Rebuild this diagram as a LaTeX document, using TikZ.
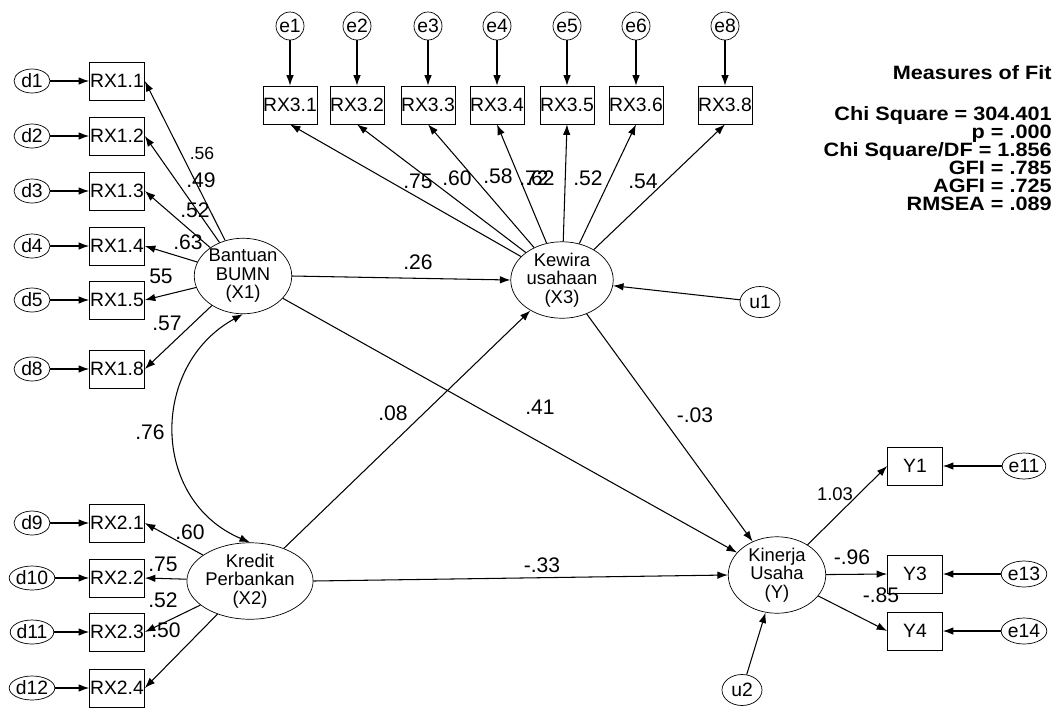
\documentclass[tikz,border=0pt]{standalone}
\usepackage{fontspec}
\setmainfont{Liberation Sans}
\newfontfamily\fitfont[FakeStretch=1.12]{Liberation Sans}
\newcommand\fitsetup{\lineskiplimit=-20pt\relax}
\usetikzlibrary{shapes.geometric, arrows.meta, positioning}

\begin{document}
\begin{tikzpicture}[x=0.02cm, y=-0.02cm, >={Latex[length=2.1mm,width=1.5mm]}, font=\fontsize{11}{12}\selectfont]
\tikzstyle{obs} = [rectangle, draw=black, minimum width=1.1cm, minimum height=0.76cm, inner sep=0pt]
\tikzstyle{topobs} = [obs, minimum width=1.04cm]
\tikzstyle{err} = [ellipse, draw=black, minimum width=0.72cm, minimum height=0.48cm, inner sep=0pt]
\tikzstyle{errc} = [circle, draw=black, minimum size=0.56cm, inner sep=0pt]
\tikzstyle{lat} = [ellipse, draw=black, minimum width=1.95cm, minimum height=1.4cm, align=center, inner sep=0pt, font=\fontsize{10.5}{10.5}\selectfont]
\tikzstyle{arrow} = [->, line width=0.6pt]
\tikzstyle{coef} = [inner sep=0pt, font=\fontsize{12}{13}\selectfont]
\tikzstyle{fit} = [inner sep=0pt, align=right, font=\fitfont\bfseries\fontsize{11}{10.3}\selectfont\fitsetup]

\useasboundingbox (0,0) rectangle (1059,708);

\node (d1) [err] at (32,81) {d1};
\node (d2) [err] at (32,136) {d2};
\node (d3) [err] at (32,191) {d3};
\node (d4) [err] at (32,246) {d4};
\node (d5) [err] at (32,300) {d5};
\node (d8) [err] at (32,369) {d8};
\node (d9) [err] at (32,523) {d9};
\node (d10) [err] at (32,578) {d10};
\node (d11) [err] at (32,632) {d11};
\node (d12) [err] at (32,688) {d12};

\node (rx11) [obs] at (117,81) {RX1.1};
\node (rx12) [obs] at (117,136) {RX1.2};
\node (rx13) [obs] at (117,191) {RX1.3};
\node (rx14) [obs] at (117,246) {RX1.4};
\node (rx15) [obs] at (117,300) {RX1.5};
\node (rx18) [obs] at (117,369) {RX1.8};
\node (rx21) [obs] at (117,523) {RX2.1};
\node (rx22) [obs] at (117,578) {RX2.2};
\node (rx23) [obs] at (117,632) {RX2.3};
\node (rx24) [obs] at (117,688) {RX2.4};

\node (e1) [errc] at (290,26) {e1};
\node (e2) [errc] at (357,26) {e2};
\node (e3) [errc] at (428,26) {e3};
\node (e4) [errc] at (497,26) {e4};
\node (e5) [errc] at (567,26) {e5};
\node (e6) [errc] at (636,26) {e6};
\node (e8) [errc] at (725,26) {e8};

\node (rx31) [topobs] at (290,105) {RX3.1};
\node (rx32) [topobs] at (357,105) {RX3.2};
\node (rx33) [topobs] at (428,105) {RX3.3};
\node (rx34) [topobs] at (497,105) {RX3.4};
\node (rx35) [topobs] at (567,105) {RX3.5};
\node (rx36) [topobs] at (636,105) {RX3.6};
\node (rx38) [topobs] at (725,105) {RX3.8};

\node (bantuan) [lat] at (243,276) {Bantuan\\BUMN\\(X1)};
\node (kredit) [lat, minimum width=2.16cm] at (250,581) {Kredit\\Perbankan\\(X2)};
\node (kewira) [lat, minimum width=2.05cm] at (562,280) {Kewira\\usahaan\\(X3)};
\node (kinerja) [lat] at (777,575) {Kinerja\\Usaha\\(Y)};

\node (u1) [err, minimum width=0.8cm, minimum height=0.62cm] at (760,302) {u1};
\node (u2) [err, minimum width=0.8cm, minimum height=0.62cm] at (742,690) {u2};

\node (y1) [obs] at (915,466) {Y1};
\node (y3) [obs] at (915,574) {Y3};
\node (y4) [obs] at (915,631) {Y4};
\node (e11) [err, minimum height=0.52cm] at (1024,466) {e11};
\node (e13) [err, minimum height=0.52cm] at (1024,574) {e13};
\node (e14) [err, minimum height=0.52cm] at (1024,631) {e14};

\node (fittitle) [fit, anchor=base east] at (1052,79) {Measures of Fit};
\node (fitbody) [fit, anchor=north east] at (1052,106) {Chi Square = 304.401\\p = .000\\Chi Square/DF = 1.856\\GFI = .785\\AGFI = .725\\RMSEA = .089};

\draw [arrow] (d1) -- (rx11);
\draw [arrow] (d2) -- (rx12);
\draw [arrow] (d3) -- (rx13);
\draw [arrow] (d4) -- (rx14);
\draw [arrow] (d5) -- (rx15);
\draw [arrow] (d8) -- (rx18);
\draw [arrow] (d9) -- (rx21);
\draw [arrow] (d10) -- (rx22);
\draw [arrow] (d11) -- (rx23);
\draw [arrow] (d12) -- (rx24);

\draw [arrow] (e1) -- (rx31);
\draw [arrow] (e2) -- (rx32);
\draw [arrow] (e3) -- (rx33);
\draw [arrow] (e4) -- (rx34);
\draw [arrow] (e5) -- (rx35);
\draw [arrow] (e6) -- (rx36);
\draw [arrow] (e8) -- (rx38);

\draw [arrow] (bantuan) -- (rx11.east);
\draw [arrow] (bantuan) -- (rx12.east);
\draw [arrow] (bantuan) -- (rx13.east);
\draw [arrow] (bantuan) -- (rx14.east);
\draw [arrow] (bantuan) -- (rx15.east);
\draw [arrow] (bantuan) -- (rx18.east);

\draw [arrow] (kredit) -- (rx21.east);
\draw [arrow] (kredit) -- (rx22.east);
\draw [arrow] (kredit) -- (rx23.east);
\draw [arrow] (kredit) -- (rx24.east);

\draw [arrow] (kewira) -- (rx31.south);
\draw [arrow] (kewira) -- (rx32.south);
\draw [arrow] (kewira) -- (rx33.south);
\draw [arrow] (kewira) -- (rx34.south);
\draw [arrow] (kewira) -- (rx35.south);
\draw [arrow] (kewira) -- (rx36.south);
\draw [arrow] (kewira) -- (rx38.south);

\draw [arrow] (bantuan.east) -- (kewira.west);
\draw [arrow] (bantuan) -- (kinerja);
\draw [arrow] (kredit) -- (kewira);
\draw [arrow] (kredit.east) -- (kinerja.west);
\draw [arrow] (kewira) -- (kinerja);
\draw [arrow] (u1) -- (kewira);
\draw [arrow] (u2) -- (kinerja);
\draw [<->, line width=0.6pt] (bantuan.south) .. controls (150,365) and (150,500) .. (kredit.north);

\draw [arrow] (kinerja) -- (y1.west);
\draw [arrow] (kinerja) -- (y3.west);
\draw [arrow] (kinerja) -- (y4.west);
\draw [arrow] (e11) -- (y1);
\draw [arrow] (e13) -- (y3);
\draw [arrow] (e14) -- (y4);

\node (c56) [coef, font=\fontsize{10}{10}\selectfont] at (202,153) {.56};
\node (c49) [coef] at (201,180) {.49};
\node (c52a) [coef] at (195,210) {.52};
\node (c63) [coef] at (188,242) {.63};
\node (c55) [coef] at (161,276) {55};
\node (c57) [coef] at (167,323) {.57};
\node (c76) [coef] at (150,432) {.76};
\node (c60a) [coef] at (190,532) {.60};
\node (c75a) [coef] at (163,564) {.75};
\node (c52b) [coef] at (163,600) {.52};
\node (c50) [coef] at (166,630) {.50};

\node (c75b) [coef] at (418,181) {.75};
\node (c60b) [coef] at (457,178) {.60};
\node (c58) [coef] at (498,176) {.58};
\node (c72) [coef] at (534,178) {.72};
\node (c62) [coef] at (540,178) {.62};
\node (c52c) [coef] at (588,178) {.52};
\node (c54) [coef] at (643,181) {.54};

\node (c26) [coef] at (418,262) {.26};
\node (c08) [coef] at (393,413) {.08};
\node (c41) [coef] at (540,407) {.41};
\node (c03) [coef] at (695,415) {-.03};
\node (c33) [coef] at (542,565) {-.33};
\node (c103) [coef, font=\fontsize{10.5}{11}\selectfont] at (835,494) {1.03};
\node (c96) [coef] at (852,557) {-.96};
\node (c85) [coef] at (881,595) {-.85};
\end{tikzpicture}
\end{document}
